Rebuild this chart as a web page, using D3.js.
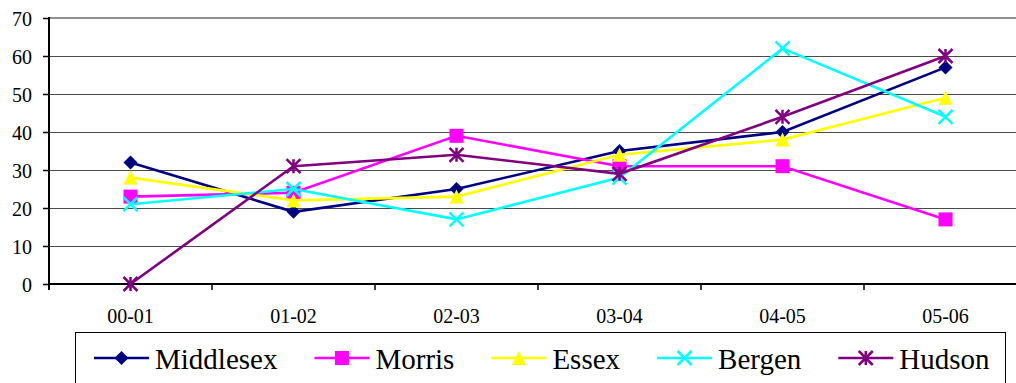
<!DOCTYPE html>
<html><head><meta charset="utf-8">
<script src="https://cdn.jsdelivr.net/npm/d3@7"></script>
<style>
html,body{margin:0;padding:0;background:#fff;overflow:hidden}
svg text{font-family:'Liberation Serif','Times New Roman',Tinos,serif !important}
</style></head>
<body><svg id="c" width="1016" height="383"></svg>
<script>
const categories = ["00-01","01-02","02-03","03-04","04-05","05-06"];
const seriesNames = ["Middlesex","Morris","Essex","Bergen","Hudson"];
const middlesex = [32,19,25,35,40,57];
const morris    = [23,24,39,31,31,17];
const essex     = [28,22,23,34,38,49];
const bergen    = [21,25,17,28,62,44];
const hudson    = [0,31,34,29,44,60];
const yTicks = [0,10,20,30,40,50,60,70];
const colors = ["#000080","#FF00FF","#FFFF00","#00FFFF","#800080"];
const markers = ["diamond","square","triangle","x","star"];
const values = [middlesex, morris, essex, bergen, hudson];

const svg = d3.select("#c");
const pL = 49, pR = 1027, pT = 18, pB = 284;
const x = d3.scaleBand().domain(categories).range([pL, pR]).padding(0);
const y = d3.scaleLinear().domain([0,70]).range([pB, pT]);

// plot frame (top gray)
svg.append("line").attr("x1",pL).attr("x2",1016).attr("y1",pT).attr("y2",pT)
  .attr("stroke","#909090").attr("stroke-width",2);

// gridlines
svg.append("g").selectAll("line").data(yTicks.filter(d=>d>0 && d<70)).join("line")
  .attr("x1",pL).attr("x2",1016).attr("y1",d=>Math.round(y(d))+0.5).attr("y2",d=>Math.round(y(d))+0.5)
  .attr("stroke","#4a4a4a").attr("stroke-width",1);

// y axis
const yAxis = d3.axisLeft(y).tickValues(yTicks).tickSize(6).tickPadding(11).tickFormat(d3.format("d"));
const gy = svg.append("g").attr("transform",`translate(${pL},0)`).call(yAxis);
gy.select(".domain").remove();
gy.attr("font-family",null).attr("font-size",20);
gy.selectAll(".tick line").attr("stroke","#000").attr("stroke-width",1.5);
gy.selectAll(".tick text").attr("font-size",20).attr("fill","#000").attr("dy","0.35em");
svg.append("line").attr("x1",pL).attr("x2",pL).attr("y1",pT-1).attr("y2",pB+6)
  .attr("stroke","#000").attr("stroke-width",2);

// x axis
const xAxis = d3.axisBottom(x).tickSize(0).tickPadding(0);
const gx = svg.append("g").attr("transform",`translate(0,${pB})`).call(xAxis);
gx.select(".domain").remove();
gx.attr("font-family",null).attr("font-size",20);
gx.selectAll(".tick text").attr("font-size",20).attr("fill","#000").attr("dy","0").attr("y",39);
svg.append("line").attr("x1",pL).attr("x2",1016).attr("y1",pB).attr("y2",pB)
  .attr("stroke","#000").attr("stroke-width",2);
svg.append("g").selectAll("line").data(categories).join("line")
  .attr("x1",d=>x(d)).attr("x2",d=>x(d)).attr("y1",pB).attr("y2",pB+6)
  .attr("stroke","#000").attr("stroke-width",1.5);

function drawMarker(g, type, color, r){
  if(type==="diamond"){
    g.append("path").attr("d",`M0,${-r}L${r},0L0,${r}L${-r},0Z`).attr("fill",color);
  } else if(type==="square"){
    g.append("rect").attr("x",-r).attr("y",-r).attr("width",2*r).attr("height",2*r).attr("fill",color);
  } else if(type==="triangle"){
    g.append("path").attr("d",`M0,${-r}L${r},${r}L${-r},${r}Z`).attr("fill",color);
  } else if(type==="x"){
    g.append("path").attr("d",`M${-r},${-r}L${r},${r}M${-r},${r}L${r},${-r}`).attr("stroke",color).attr("stroke-width",2.5).attr("fill","none");
  } else if(type==="star"){
    g.append("path").attr("d",`M${-r},${-r}L${r},${r}M${-r},${r}L${r},${-r}M0,${-r}L0,${r}`).attr("stroke",color).attr("stroke-width",2.5).attr("fill","none");
  }
}

const line = d3.line().x((d,i)=>x(categories[i])+x.bandwidth()/2).y(d=>y(d));
values.forEach((vals,si)=>{
  const g = svg.append("g");
  g.append("path").datum(vals).attr("d",line).attr("fill","none")
    .attr("stroke",colors[si]).attr("stroke-width",2.6);
  vals.forEach((v,i)=>{
    const mg = g.append("g").attr("transform",`translate(${x(categories[i])+x.bandwidth()/2},${y(v)})`);
    drawMarker(mg, markers[si], colors[si], 7);
  });
});

// legend
svg.append("rect").attr("x",75.5).attr("y",332.5).attr("width",930).attr("height",60)
  .attr("fill","#fff").attr("stroke","#000").attr("stroke-width",1);
let lx = 94; const ly = 358;
seriesNames.forEach((name,si)=>{
  const g = svg.append("g");
  g.append("line").attr("x1",lx).attr("x2",lx+55).attr("y1",ly).attr("y2",ly)
    .attr("stroke",colors[si]).attr("stroke-width",2.6);
  const mg = g.append("g").attr("transform",`translate(${lx+27.5},${ly})`);
  drawMarker(mg, markers[si], colors[si], 7);
  const t = g.append("text").attr("x",lx+61).attr("y",369)
    .attr("font-size",29).attr("fill","#000").text(name);
  lx = lx + 61 + t.node().getComputedTextLength() + 37;
});
</script></body></html>
